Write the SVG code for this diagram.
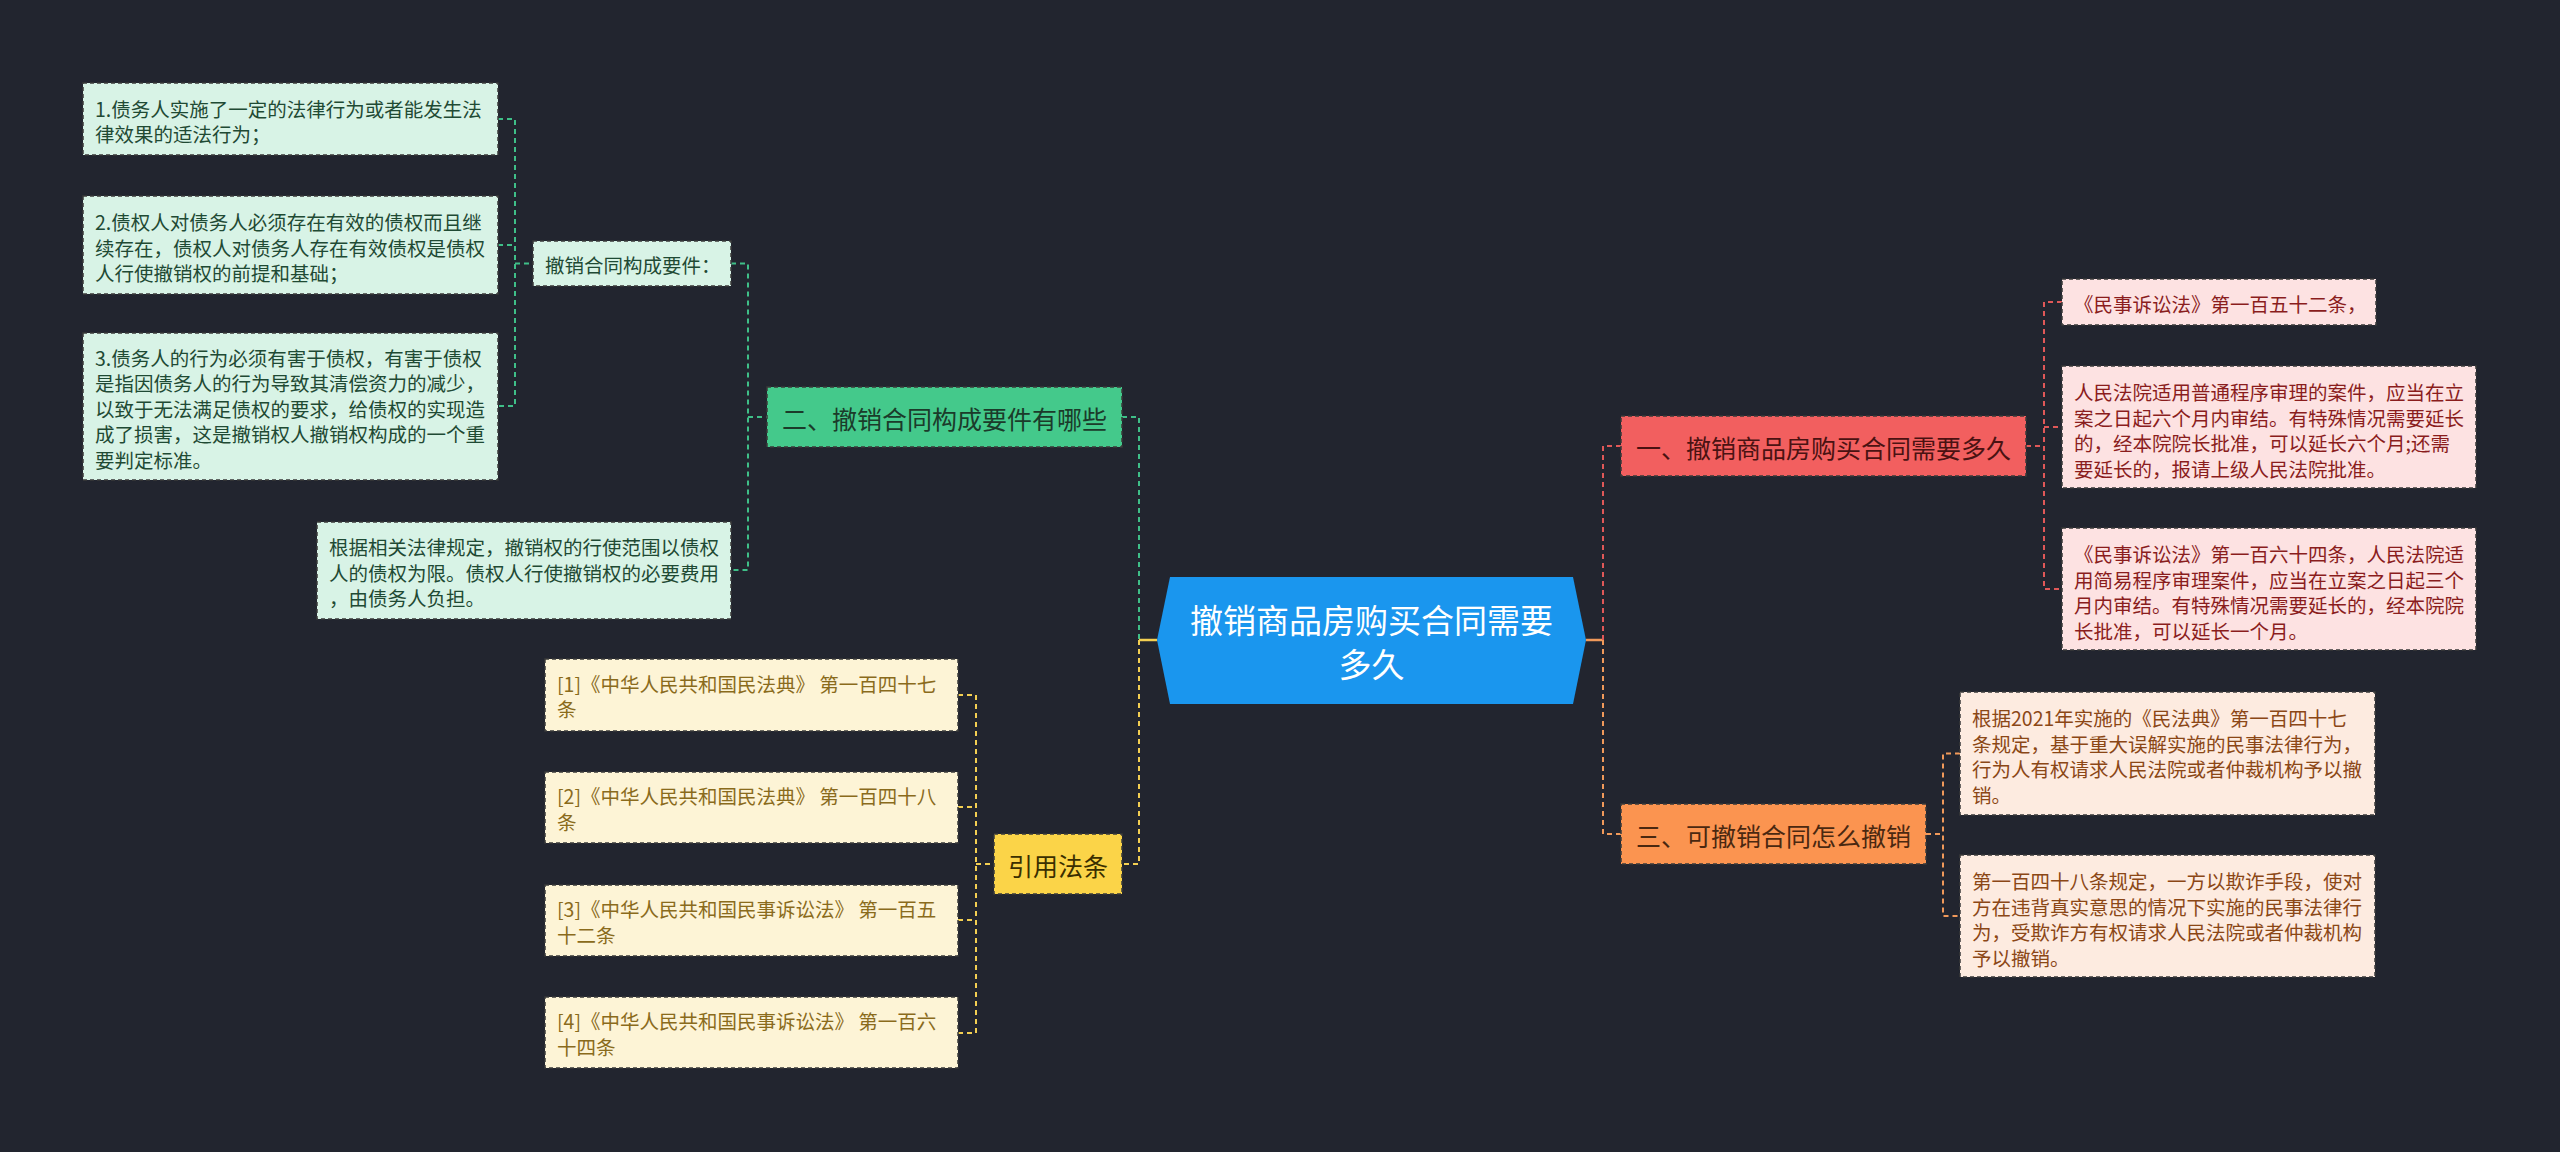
<svg xmlns="http://www.w3.org/2000/svg" width="2560" height="1152" viewBox="0 0 2560 1152">
<style>
text{font-family:"Noto Sans CJK SC","Noto Sans",sans-serif;dominant-baseline:central}
.box{stroke:#3a3a3a;stroke-width:1.5;stroke-dasharray:4 3}
.sm{font-size:19.5px}
.big{font-size:25px;text-anchor:middle}
.g{fill:#d8f3e6}.gt{fill:#1f4a34}
.c{fill:#fdf4d6}.ct{fill:#8a6b1c}
.p{fill:#fde2e2}.pt{fill:#8a1d1d}
.o{fill:#fdebe0}.ot{fill:#8b4716}
.con{fill:none;stroke-width:2;stroke-dasharray:5 4}
.cg{stroke:#3fbf88}.cy{stroke:#f3cf52}.cr{stroke:#e05858}.co{stroke:#f0995a}
</style>
<rect x="0" y="0" width="2560" height="1152" fill="#22252f"/>
<g id="connectors">
<path class="con cg" d="M498,119 H515 V406 H498 M498,245 H515 M515,263.5 H533"/>
<path class="con cg" d="M731,263.5 H748 V570 H731 M748,417 H767"/>
<path class="con cg" d="M1122,417 H1139 V640"/>
<path class="con cy" d="M1139,640 V864 H1122"/>
<path d="M1139,640 H1157" stroke="#f3cf52" stroke-width="2.5" fill="none"/>
<path class="con cy" d="M958,695 H976 V1033 H958 M958,807 H976 M958,920 H976 M976,864 H994"/>
<path d="M1586,640 H1603" stroke="#f0995a" stroke-width="2.5" fill="none"/>
<path class="con cr" d="M1603,640 V446 H1621"/>
<path class="con co" d="M1603,640 V834 H1621"/>
<path class="con cr" d="M2026,446 H2044 M2062,302 H2044 V589 H2062 M2044,427 H2062"/>
<path class="con co" d="M1926,834 H1943 M1960,753.5 H1943 V916 H1960"/>
</g>
<g id="center">
<polygon points="1157,640 1170,577 1573,577 1586,640 1573,704 1170,704" fill="#1a96ee"/>
<text x="1371.5" y="619" font-size="33" fill="#ffffff" text-anchor="middle">撤销商品房购买合同需要</text>
<text x="1371.5" y="663" font-size="33" fill="#ffffff" text-anchor="middle">多久</text>
</g>
<g id="branch2">
<rect class="box" x="767" y="387" width="355" height="60" fill="#44c98b"/>
<text class="big" x="944.5" y="418" fill="#1b3b2a">二、撤销合同构成要件有哪些</text>
</g>
<g id="sub-conditions">
<rect class="box g" x="533" y="241" width="198" height="45"/>
<text class="sm gt" x="545" y="264">撤销合同构成要件：</text>
</g>
<g id="cond1">
<rect class="box g" x="83" y="83" width="415" height="72"/>
<text class="sm gt" x="95" y="108">1.债务人实施了一定的法律行为或者能发生法</text>
<text class="sm gt" x="95" y="133.5">律效果的适法行为；</text>
</g>
<g id="cond2">
<rect class="box g" x="83" y="196" width="415" height="98"/>
<text class="sm gt" x="95" y="221.5">2.债权人对债务人必须存在有效的债权而且继</text>
<text class="sm gt" x="95" y="247">续存在，债权人对债务人存在有效债权是债权</text>
<text class="sm gt" x="95" y="272.5">人行使撤销权的前提和基础；</text>
</g>
<g id="cond3">
<rect class="box g" x="83" y="333" width="415" height="147"/>
<text class="sm gt" x="95" y="357">3.债务人的行为必须有害于债权，有害于债权</text>
<text class="sm gt" x="95" y="382.5">是指因债务人的行为导致其清偿资力的减少，</text>
<text class="sm gt" x="95" y="408">以致于无法满足债权的要求，给债权的实现造</text>
<text class="sm gt" x="95" y="433.5">成了损害，这是撤销权人撤销权构成的一个重</text>
<text class="sm gt" x="95" y="459">要判定标准。</text>
</g>
<g id="scope">
<rect class="box g" x="317" y="522" width="414" height="97"/>
<text class="sm gt" x="329" y="546.5">根据相关法律规定，撤销权的行使范围以债权</text>
<text class="sm gt" x="329" y="572">人的债权为限。债权人行使撤销权的必要费用</text>
<text class="sm gt" x="329" y="597.5">，由债务人负担。</text>
</g>
<g id="branch-cite">
<rect class="box" x="994" y="834" width="128" height="60" fill="#fbd448"/>
<text class="big" x="1058" y="865" fill="#3a2f00">引用法条</text>
</g>
<g id="cite1">
<rect class="box c" x="545" y="659" width="413" height="72"/>
<text class="sm ct" x="557" y="683">[1]《中华人民共和国民法典》 第一百四十七</text>
<text class="sm ct" x="557" y="708.5">条</text>
</g>
<g id="cite2">
<rect class="box c" x="545" y="772" width="413" height="71"/>
<text class="sm ct" x="557" y="795.5">[2]《中华人民共和国民法典》 第一百四十八</text>
<text class="sm ct" x="557" y="821">条</text>
</g>
<g id="cite3">
<rect class="box c" x="545" y="885" width="413" height="71"/>
<text class="sm ct" x="557" y="908.5">[3]《中华人民共和国民事诉讼法》 第一百五</text>
<text class="sm ct" x="557" y="934">十二条</text>
</g>
<g id="cite4">
<rect class="box c" x="545" y="997" width="413" height="71"/>
<text class="sm ct" x="557" y="1020.5">[4]《中华人民共和国民事诉讼法》 第一百六</text>
<text class="sm ct" x="557" y="1046">十四条</text>
</g>
<g id="branch1">
<rect class="box" x="1621" y="416" width="405" height="60" fill="#f25f5f"/>
<text class="big" x="1823.5" y="447" fill="#4a1212">一、撤销商品房购买合同需要多久</text>
</g>
<g id="r1">
<rect class="box p" x="2062" y="279" width="314" height="46"/>
<text class="sm pt" x="2074" y="303">《民事诉讼法》第一百五十二条，</text>
</g>
<g id="r2">
<rect class="box p" x="2062" y="366" width="414" height="122"/>
<text class="sm pt" x="2074" y="391.5">人民法院适用普通程序审理的案件，应当在立</text>
<text class="sm pt" x="2074" y="417">案之日起六个月内审结。有特殊情况需要延长</text>
<text class="sm pt" x="2074" y="442.5">的，经本院院长批准，可以延长六个月;还需</text>
<text class="sm pt" x="2074" y="468">要延长的，报请上级人民法院批准。</text>
</g>
<g id="r3">
<rect class="box p" x="2062" y="528" width="414" height="122"/>
<text class="sm pt" x="2074" y="553.5">《民事诉讼法》第一百六十四条，人民法院适</text>
<text class="sm pt" x="2074" y="579">用简易程序审理案件，应当在立案之日起三个</text>
<text class="sm pt" x="2074" y="604.5">月内审结。有特殊情况需要延长的，经本院院</text>
<text class="sm pt" x="2074" y="630">长批准，可以延长一个月。</text>
</g>
<g id="branch3">
<rect class="box" x="1621" y="804" width="305" height="60" fill="#fb9450"/>
<text class="big" x="1773.5" y="835" fill="#4a2810">三、可撤销合同怎么撤销</text>
</g>
<g id="o1">
<rect class="box o" x="1960" y="692" width="415" height="123"/>
<text class="sm ot" x="1972" y="717.5">根据2021年实施的《民法典》第一百四十七</text>
<text class="sm ot" x="1972" y="743">条规定，基于重大误解实施的民事法律行为，</text>
<text class="sm ot" x="1972" y="768.5">行为人有权请求人民法院或者仲裁机构予以撤</text>
<text class="sm ot" x="1972" y="794">销。</text>
</g>
<g id="o2">
<rect class="box o" x="1960" y="855" width="415" height="122"/>
<text class="sm ot" x="1972" y="880.5">第一百四十八条规定，一方以欺诈手段，使对</text>
<text class="sm ot" x="1972" y="906">方在违背真实意思的情况下实施的民事法律行</text>
<text class="sm ot" x="1972" y="931.5">为，受欺诈方有权请求人民法院或者仲裁机构</text>
<text class="sm ot" x="1972" y="957">予以撤销。</text>
</g>
</svg>
